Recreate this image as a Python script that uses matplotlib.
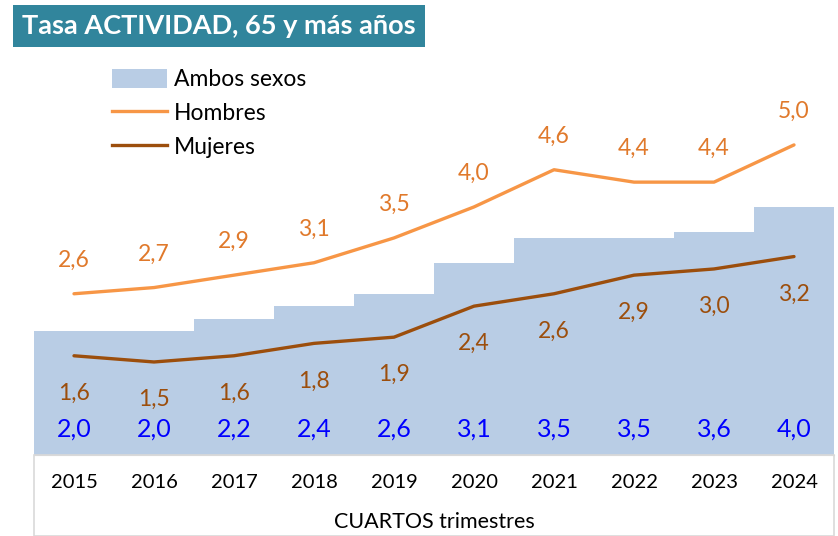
import matplotlib.pyplot as plt
from matplotlib.patches import Patch, Rectangle
from matplotlib.lines import Line2D

plt.rcParams['font.family'] = ['Lato', 'DejaVu Sans']

years = ["2015", "2016", "2017", "2018", "2019", "2020", "2021", "2022", "2023", "2024"]
ambos = [2.0, 2.0, 2.2, 2.4, 2.6, 3.1, 3.5, 3.5, 3.6, 4.0]
hombres = [2.6, 2.7, 2.9, 3.1, 3.5, 4.0, 4.6, 4.4, 4.4, 5.0]
mujeres = [1.6, 1.5, 1.6, 1.8, 1.9, 2.4, 2.6, 2.9, 3.0, 3.2]

c_bar = "#B9CDE5"
c_h = "#F79646"
c_m = "#9C4E0C"
c_blue = "#0000FF"

fmt = lambda v: f"{v:.1f}".replace(".", ",")

fig = plt.figure(figsize=(8.38, 5.36), dpi=100)
ax = fig.add_axes([34 / 838, 1 - 455 / 536, 800 / 838, 400 / 536])
x = list(range(len(years)))

ax.bar(x, ambos, width=1.0, color=c_bar, edgecolor="none")
ax.plot(x, hombres, color=c_h, lw=2.4, solid_capstyle="round")
ax.plot(x, mujeres, color=c_m, lw=2.4, solid_capstyle="round")

for i in x:
    ax.annotate(fmt(hombres[i]), (i, hombres[i]), xytext=(0, 24), textcoords="offset points",
                ha="center", va="center", fontsize=16.5, color="#E0792B")
    ax.annotate(fmt(mujeres[i]), (i, mujeres[i]), xytext=(0, -27), textcoords="offset points",
                ha="center", va="center", fontsize=16.5, color=c_m)
    ax.text(i, 0.42, fmt(ambos[i]), ha="center", va="center", fontsize=18, color=c_blue)

ax.set_xlim(-0.5, len(years) - 0.5)
ax.set_ylim(0, 6.45)
ax.set_yticks([])
ax.set_xticks(x)
ax.set_xticklabels(years, fontsize=14.5)
ax.tick_params(axis="x", length=0, pad=14)
for s in ["top", "right", "left"]:
    ax.spines[s].set_visible(False)
ax.spines["bottom"].set_color("#D9D9D9")

# box under the axis
fig.patches.append(Rectangle((34 / 838, 0), 800 / 838, 81 / 536, transform=fig.transFigure,
                             fill=False, edgecolor="#D9D9D9", lw=1.2))
fig.text(434 / 838, 1 - 522 / 536, "CUARTOS trimestres", ha="center", va="center", fontsize=15.5)

# title box
fig.text(22 / 838, 1 - 26 / 536, "Tasa ACTIVIDAD, 65 y más años", ha="left", va="center",
         fontsize=19.5, fontweight="bold", color="white",
         bbox=dict(boxstyle="square,pad=0.35", facecolor="#31859C", edgecolor="none"))

handles = [Patch(facecolor=c_bar, edgecolor="none"),
           Line2D([], [], color=c_h, lw=2.4),
           Line2D([], [], color=c_m, lw=2.4)]
fig.legend(handles, ["Ambos sexos", "Hombres", "Mujeres"], loc="upper left",
           bbox_to_anchor=(91 / 838, 1 - 48 / 536), frameon=False, fontsize=16.5,
           handlelength=2.4, handleheight=0.9, handletextpad=0.3, labelspacing=0.55)

fig.savefig("out.png", dpi=100)
